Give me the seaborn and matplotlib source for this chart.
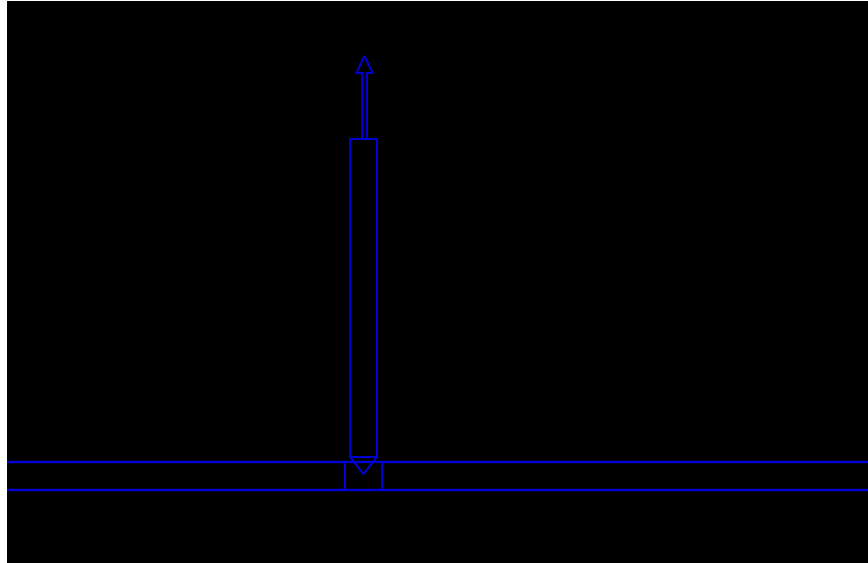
import numpy as np
import pandas as pd
import matplotlib
matplotlib.use("Agg")
import matplotlib.pyplot as plt
import seaborn as sns
from matplotlib.patches import Rectangle, FancyArrow

ground_levels = [101, 73]              # the two horizontal lines
body_x = [350, 377]                    # tall rectangle, left / right
body_y = [106, 424]                    # tall rectangle, bottom / top
socket_x = [345, 382]                  # small box between the lines
tip_x = [350, 363.5, 377]              # V at the bottom of the body
tip_y = [106, 89, 106]
arrow_x = 364.5
arrow_y = [424, 507]                   # shaft start, arrow tip
arrow_shaft = 5
arrow_head_w = 16
arrow_head_l = 17

blue = "#0000dd"

sns.set_style("dark")
fig = plt.figure(figsize=(8.68, 5.63), dpi=100)
fig.patch.set_facecolor("white")
ax = fig.add_axes([7 / 868, 0, 861 / 868, 562 / 563])
ax.set_facecolor("black")
ax.set_xlim(7, 868)
ax.set_ylim(0, 562)

# horizontal lines
for lvl in ground_levels:
    ax.axhline(lvl, color=blue, lw=1.7)

# socket box sides
ax.vlines(socket_x, ground_levels[1], ground_levels[0], color=blue, lw=1.4)

# tall body
ax.add_patch(Rectangle((body_x[0], body_y[0]), body_x[1] - body_x[0],
                       body_y[1] - body_y[0], fill=False, ec=blue, lw=1.4))

# V tip
tip = pd.DataFrame({"x": tip_x, "y": tip_y})
sns.lineplot(data=tip, x="x", y="y", sort=False, color=blue, lw=1.4, ax=ax)

# arrow on top
ax.add_patch(FancyArrow(arrow_x, arrow_y[0], 0, arrow_y[1] - arrow_y[0],
                        width=arrow_shaft, head_width=arrow_head_w,
                        head_length=arrow_head_l, length_includes_head=True,
                        fill=False, ec=blue, lw=1.4))

ax.set_xlabel("")
ax.set_ylabel("")
ax.set_xticks([])
ax.set_yticks([])
for s in ax.spines.values():
    s.set_visible(False)

fig.savefig("out.png", dpi=100, facecolor="white")
